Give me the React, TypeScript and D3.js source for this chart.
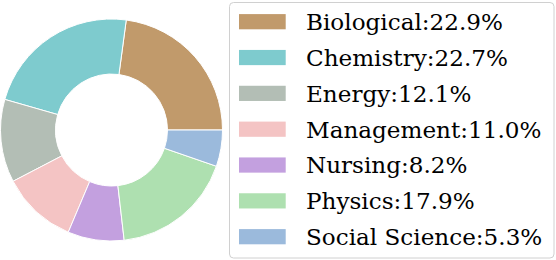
import React from "react";
import * as d3 from "d3";

const categories = ["Biological", "Chemistry", "Energy", "Management", "Nursing", "Physics", "Social Science"];
const values = [22.9, 22.7, 12.1, 11.0, 8.2, 17.9, 5.3];
const colors = ["#c19a6b", "#7ecbce", "#b3beb5", "#f4c4c4", "#c3a0df", "#aee0b0", "#9bbadc"];

export default function App() {
  const W = 556, H = 260;
  const cx = 111.5, cy = 130, R = 111, r = 56;
  const pie = d3.pie<number>().sort(null).startAngle(Math.PI / 2).endAngle(Math.PI / 2 - 2 * Math.PI);
  const arcs = pie(values);
  const arc = d3.arc<d3.PieArcDatum<number>>().innerRadius(r).outerRadius(R);
  const rowY = d3.scaleLinear().domain([0, categories.length - 1]).range([21.7, 236.7]);
  return (
    <svg width={W} height={H} style={{ position: "absolute", left: 0, top: 0 }}>
      <g transform={`translate(${cx},${cy})`}>
        {arcs.map((a, i) => (
          <path key={i} d={arc(a) || ""} fill={colors[i]} stroke="#fff" strokeWidth={1} strokeLinejoin="round" />
        ))}
      </g>
      <rect x={229.5} y={2.5} width={324.5} height={255.5} rx={4} fill="#fff" fillOpacity={0.8} stroke="#d0d0d0" strokeWidth={1} />
      {categories.map((c, i) => (
        <g key={c}>
          <rect x={239} y={rowY(i) - 7.6} width={46.7} height={15.2} fill={colors[i]} />
          <text x={306} y={rowY(i) + 8.3} fontFamily="DejaVu Serif" fontSize={23.1} fill="#000">
            {`${c}:${values[i].toFixed(1)}%`}
          </text>
        </g>
      ))}
    </svg>
  );
}
